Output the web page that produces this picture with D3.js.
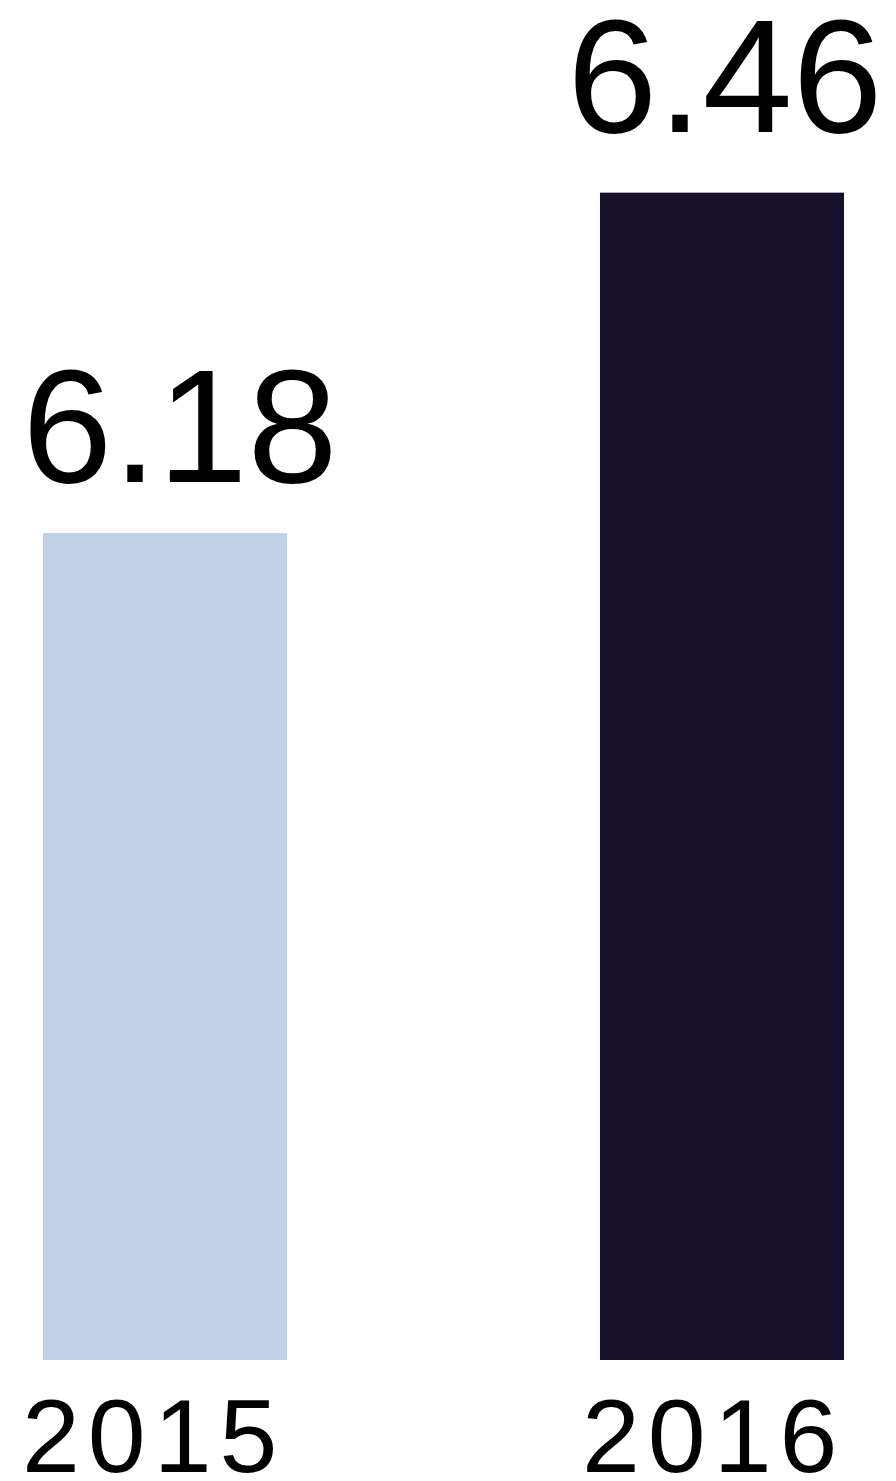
<!DOCTYPE html>
<html>
<head>
<meta charset="utf-8">
<script src="https://cdn.jsdelivr.net/npm/d3@7"></script>
<style>
  html, body { margin: 0; padding: 0; background: #ffffff; }
  svg { display: block; }
  text { font-family: "Liberation Sans", Arial, sans-serif; fill: #000; }
</style>
</head>
<body>
<script>
const categories = ["2015", "2016"];
const values = [6.18, 6.46];
const valueLabels = ["6.18", "6.46"];
const colors = ["#bfd1e6", "#18112e"];

const W = 896, H = 1481;
const svg = d3.select("body").append("svg").attr("width", W).attr("height", H);

const x = d3.scaleBand().domain(categories).range([43, 844]).paddingInner(0.5619).paddingOuter(0);
const y = d3.scaleLinear().domain([5.5, 6.5]).range([1360, 144]);

// small per-label nudges observed in the original layout
const valDx = [15, 3];
const valDy = [-51, -61];
const yearDx = [-21, -18];

svg.selectAll("rect.bar").data(values).join("rect")
  .attr("class", "bar")
  .attr("x", (d, i) => x(categories[i]))
  .attr("y", d => y(d))
  .attr("width", x.bandwidth())
  .attr("height", d => y(5.5) - y(d))
  .attr("fill", (d, i) => colors[i]);

svg.selectAll("text.val").data(values).join("text")
  .attr("class", "val")
  .attr("x", (d, i) => x(categories[i]) + x.bandwidth() / 2 + valDx[i])
  .attr("y", (d, i) => y(d) + valDy[i])
  .attr("text-anchor", "middle")
  .attr("font-size", 162)
  .text((d, i) => valueLabels[i]);

svg.selectAll("text.cat").data(categories).join("text")
  .attr("class", "cat")
  .attr("x", (d, i) => x(d) + yearDx[i])
  .attr("y", 1472)
  .attr("text-anchor", "start")
  .attr("font-size", 104)
  .attr("letter-spacing", 8)
  .text(d => d);
</script>
</body>
</html>
